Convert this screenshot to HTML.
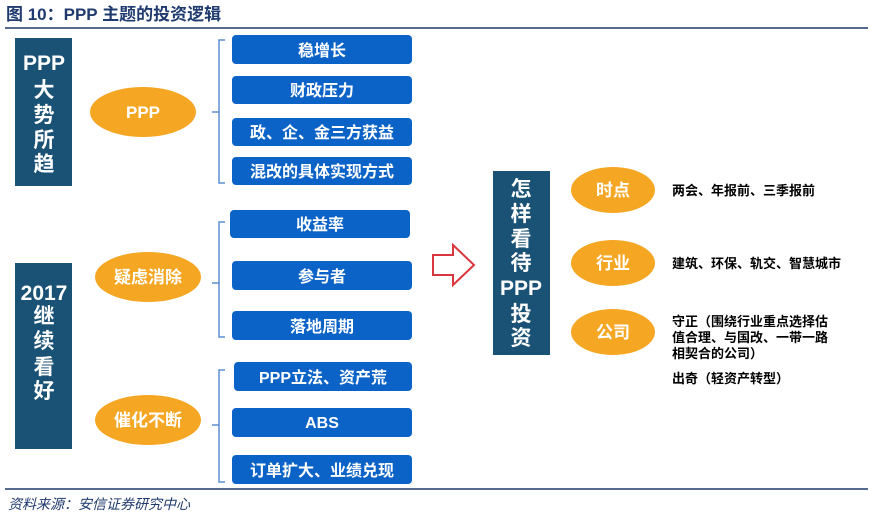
<!DOCTYPE html>
<html><head><meta charset="utf-8"><style>
body{margin:0;background:#fff}
svg{display:block}
text{font-family:"Liberation Sans","Noto Sans CJK SC",sans-serif}
</style></head><body>
<svg width="870" height="516" viewBox="0 0 870 516" xmlns="http://www.w3.org/2000/svg">
<text x="6" y="20" font-size="17" font-weight="bold" fill="#1f3a6e">图 10：PPP 主题的投资逻辑</text>
<line x1="5" y1="28" x2="868" y2="28" stroke="#1f3a6e" stroke-width="1.5"/>
<line x1="5" y1="489" x2="868" y2="489" stroke="#1f3a6e" stroke-width="1.5"/>
<text x="8" y="509" font-size="14" font-style="italic" fill="#1f3a6e" font-family="'Noto Serif CJK SC',serif">资料来源：安信证券研究中心</text>

<g fill="#1a5276">
<rect x="15" y="38" width="57" height="148"/>
<rect x="15" y="263" width="57" height="186"/>
<rect x="493" y="171" width="57" height="184"/>
</g>
<g fill="#fff" font-size="21" font-weight="bold" text-anchor="middle">
<text x="44" y="70">PPP</text><text x="44" y="97">大</text><text x="44" y="122">势</text><text x="44" y="147">所</text><text x="44" y="171">趋</text>
<text x="44" y="300">2017</text><text x="44" y="323">继</text><text x="44" y="348">续</text><text x="44" y="374">看</text><text x="44" y="398">好</text>
<text x="521" y="196">怎</text><text x="521" y="221">样</text><text x="521" y="246">看</text><text x="521" y="270">待</text><text x="521" y="295">PPP</text><text x="521" y="321">投</text><text x="521" y="345">资</text>
</g>

<g fill="#f5a623">
<ellipse cx="143" cy="112" rx="53" ry="25"/>
<ellipse cx="148" cy="277" rx="53" ry="25"/>
<ellipse cx="148" cy="420" rx="53" ry="25"/>
<ellipse cx="613" cy="190" rx="42" ry="23"/>
<ellipse cx="613" cy="263" rx="42" ry="23"/>
<ellipse cx="613" cy="332" rx="42" ry="23"/>
</g>
<g fill="#fff" font-size="17" font-weight="bold" text-anchor="middle">
<text x="143" y="118">PPP</text><text x="148" y="283">疑虑消除</text><text x="148" y="426">催化不断</text>
<text x="613" y="196">时点</text><text x="613" y="269">行业</text><text x="613" y="338">公司</text>
</g>

<g fill="none" stroke="#5b8fd1" stroke-width="1.5">
<path d="M225 40 H219 V183 H225 M219 112 H212"/>
<path d="M225 222 H219 V337 H225 M219 283 H212"/>
<path d="M225 370 H219 V482 H225 M219 425 H212"/>
</g>

<g fill="#0b63c7">
<rect x="232" y="35" width="180" height="29" rx="4"/>
<rect x="232" y="76" width="180" height="28" rx="4"/>
<rect x="232" y="118" width="180" height="28" rx="4"/>
<rect x="232" y="157" width="180" height="28" rx="4"/>
<rect x="230" y="210" width="180" height="28" rx="4"/>
<rect x="232" y="261" width="180" height="29" rx="4"/>
<rect x="232" y="311" width="180" height="29" rx="4"/>
<rect x="234" y="362" width="178" height="29" rx="4"/>
<rect x="232" y="408" width="180" height="29" rx="4"/>
<rect x="232" y="455" width="180" height="29" rx="4"/>
</g>
<g fill="#fff" font-size="16" font-weight="bold" text-anchor="middle">
<text x="322" y="56">稳增长</text><text x="322" y="96">财政压力</text><text x="322" y="138">政、企、金三方获益</text><text x="322" y="177">混改的具体实现方式</text>
<text x="320" y="230">收益率</text><text x="322" y="282">参与者</text><text x="322" y="332">落地周期</text>
<text x="323" y="383">PPP立法、资产荒</text><text x="322" y="428">ABS</text><text x="322" y="476">订单扩大、业绩兑现</text>
</g>

<path d="M433 255 H453 V245 L474 265 L453 285 V275 H433 Z" fill="#fff" stroke="#d9363e" stroke-width="2"/>

<g fill="#000" font-size="13" font-weight="bold">
<text x="672" y="195">两会、年报前、三季报前</text>
<text x="672" y="268">建筑、环保、轨交、智慧城市</text>
<text x="672" y="326">守正（围绕行业重点选择估</text>
<text x="672" y="342">值合理、与国改、一带一路</text>
<text x="672" y="358">相契合的公司）</text>
<text x="672" y="383">出奇（轻资产转型）</text>
</g>
</svg>
</body></html>
